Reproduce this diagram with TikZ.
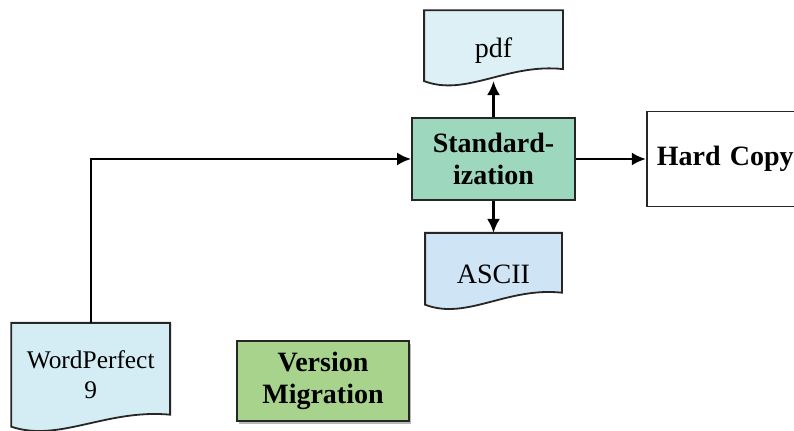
\documentclass[tikz,border=0pt]{standalone}
\usepackage{fontspec}
\setmainfont{Liberation Serif}
\usepackage{tikz}
\usetikzlibrary{calc,positioning,backgrounds,shadows,arrows.meta}
\definecolor{stdgreen}{HTML}{9DD7BD}
\definecolor{vmgreen}{HTML}{A8D38D}
\definecolor{pdfblue}{HTML}{DDF0F6}
\definecolor{asciiblue}{HTML}{CFE4F5}
\definecolor{wpblue}{HTML}{D4EDF4}
\tikzset{
    process/.style={rectangle,draw=black!85,line width=0.9pt,text centered,align=center,font=\bfseries\fontsize{14}{16}\selectfont},
    document/.style={rectangle,inner sep=0pt,text centered,align=center,font=\fontsize{14}{16}\selectfont},
    docline/.style={draw=black!85,line width=0.9pt},
    flow/.style={->,line width=1.2pt},
}
% outline of a document node: flat top, wavy bottom
\newcommand{\docoutline}[2]{%
  \path[docline,fill=#2] (#1.north west) -- (#1.north east) -- ($(#1.south east)+(0,6pt)$)
    .. controls ($(#1.south west)!0.6!(#1.south east)+(0,9pt)$) and ($(#1.south west)!0.3!(#1.south east)+(0,-8pt)$) .. (#1.south west) -- cycle;}

\begin{document}
\begin{tikzpicture}[>={Latex[length=7pt,width=6.5pt]}]
\useasboundingbox (0,0) rectangle (397pt,-215.5pt);
\node[process,fill=stdgreen,minimum width=81.5pt,minimum height=41pt] (std) at (246.75pt,-79.5pt) {Standard-\\ization};
\node[document,minimum width=69pt,minimum height=35pt,text height=14.5pt] (pdf) [above=18pt of std] {pdf};
\node[document,minimum width=68pt,minimum height=35.5pt,text height=14.5pt] (ascii) [below=16pt of std] {ASCII};
\node[process,minimum width=90pt,minimum height=47.5pt,text width=80pt,align=left,inner xsep=5pt] (hard) [right=35pt of std] {Hard Copy};
\node[document,minimum width=79pt,minimum height=51.5pt,font=\fontsize{12.7}{15}\selectfont] (wp) [below left=61pt and 120.5pt of std] {WordPerfect\\9};
\node[process,fill=vmgreen,minimum width=86pt,minimum height=40pt,yshift=-3pt,
      drop shadow={shadow xshift=1pt,shadow yshift=-1.5pt,fill=black!55}] (vm) [right=33pt of wp] {Version\\Migration};
\begin{scope}[on background layer]
\docoutline{pdf}{pdfblue}
\docoutline{ascii}{asciiblue}
\docoutline{wp}{wpblue}
\end{scope}
\draw[flow] (wp) |- (std);
\draw[flow] (std) -- (pdf);
\draw[flow] (std) -- (ascii);
\draw[flow] (std) -- (std -| hard.west);
\end{tikzpicture}
\end{document}
